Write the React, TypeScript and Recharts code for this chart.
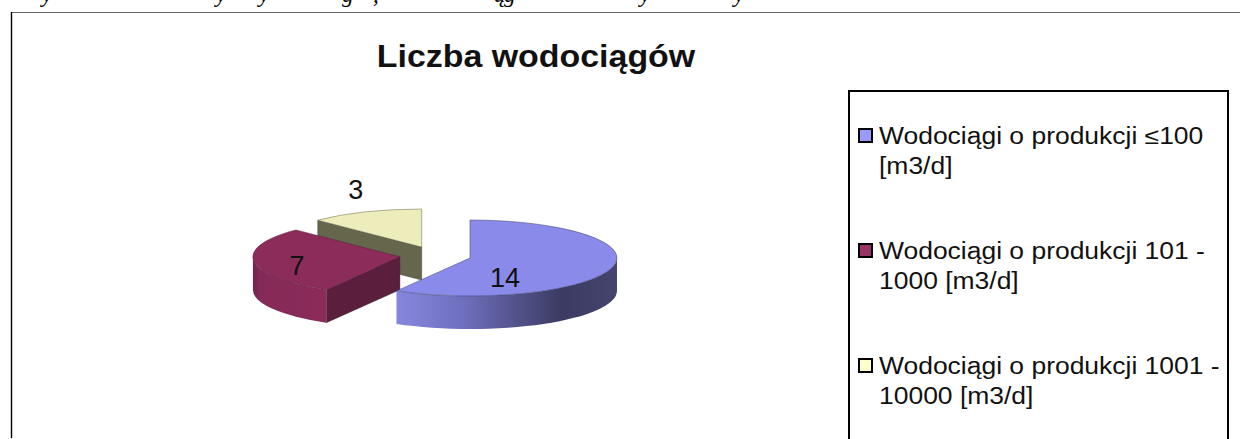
import React from "react";
import { PieChart, Pie, Legend } from "recharts";

// ---- data (in the order of the reference legend)
const categories = [
  "Wodociągi o produkcji ≤100 [m3/d]",
  "Wodociągi o produkcji 101 - 1000 [m3/d]",
  "Wodociągi o produkcji 1001 - 10000 [m3/d]",
];
const values = [14, 7, 3];
const title = "Liczba wodociągów";

// ---- style
const swatchColors = ["#9999FF", "#993366", "#FFFFCC"];
const faceColors = ["#8A8AEA", "#8B2C5B", "#EDEDBC"];
const radialWallColors = ["#3B3B63", "#5B1E3C", "#66664C"];
const wallStops: [number, string][][] = [
  [[0, "#8686DE"], [0.3, "#6F6FBF"], [0.55, "#52528A"], [0.75, "#3B3B63"], [1, "#44446E"]],
  [[0, "#6E2349"], [0.1, "#852A58"], [1, "#8B2B5A"]],
  [[0, "#66664C"], [1, "#66664C"]],
];
const labelOffsets = [[35, 29], [-103, 18], [-66, -48]];
const descenders: [string, number][] = [
  ["y", 42], ["y", 216], ["y", 259], ["g", 342], [",", 373], ["ą", 494], ["g", 504], ["y", 640], ["y", 734],
];

const SQUASH = 38 / 147;
const DEPTH = 33;
const EXPLODE = 35.8;
const RAD = Math.PI / 180;
const TEXT_STRETCH = 1.15;

// Drawn counter-clockwise in reverse so the front slices paint last.
const table = categories
  .map((name, i) => ({ name, value: values[i], fill: swatchColors[i] }))
  .reverse();
const refIndex = (i: number) => values.length - 1 - i;

function apex(cx: number, cy: number, midAngle: number) {
  return {
    x: cx + EXPLODE * Math.cos(midAngle * RAD),
    y: cy - EXPLODE * SQUASH * Math.sin(midAngle * RAD),
  };
}

function Slice3D(props: any) {
  const { cx, cy, outerRadius: r, startAngle: s, endAngle: e, midAngle, index } = props;
  const idx = refIndex(index);
  const c = apex(cx, cy, midAngle);
  const ry = r * SQUASH;
  const P = (a: number, dy = 0) =>
    `${c.x + r * Math.cos(a * RAD)} ${c.y - ry * Math.sin(a * RAD) + dy}`;
  const large = e - s > 180 ? 1 : 0;
  const top = `M${c.x} ${c.y} L${P(s)} A${r} ${ry} 0 ${large} 0 ${P(e)} Z`;
  const lo = Math.max(s, 180);
  const hi = Math.min(e, 360);
  const id = `wall-${idx}`;
  const outer =
    hi > lo
      ? `M${P(lo)} A${r} ${ry} 0 0 0 ${P(hi)} L${P(hi, DEPTH)} A${r} ${ry} 0 0 1 ${P(lo, DEPTH)} Z`
      : null;
  const radial = `M${c.x} ${c.y} L${P(e)} L${P(e, DEPTH)} L${c.x} ${c.y + DEPTH} Z`;
  return (
    <g>
      <defs>
        <linearGradient id={id} x1="0" y1="0" x2="1" y2="0">
          {wallStops[idx].map(([o, col]) => (
            <stop key={o} offset={o} stopColor={col} />
          ))}
        </linearGradient>
      </defs>
      {e < 360 && <path d={radial} fill={radialWallColors[idx]} stroke="#2a2a2a" strokeWidth={0.4} />}
      {outer && <path d={outer} fill={`url(#${id})`} />}
      <path d={top} fill={faceColors[idx]} stroke={radialWallColors[idx]} strokeWidth={0.5} />
    </g>
  );
}

function SliceLabel(props: any) {
  const { cx, cy, midAngle, value, index } = props;
  const c = apex(cx, cy, midAngle);
  const [dx, dy] = labelOffsets[refIndex(index)];
  return (
    <text
      x={c.x + dx}
      y={c.y + dy}
      textAnchor="middle"
      fontFamily="'Liberation Sans', Arial, sans-serif"
      fontSize={27}
      fill="#111"
    >
      {value}
    </text>
  );
}

function LegendBox(props: any) {
  const items = [...(props.payload || [])].reverse();
  return (
    <div
      style={{
        boxSizing: "border-box",
        width: 381,
        height: 380,
        border: "2px solid #000",
        background: "#fff",
        fontFamily: "'Liberation Sans', Arial, sans-serif",
        fontSize: 23,
        lineHeight: "30px",
        color: "#111",
        position: "relative",
      }}
    >
      {items.map((it: any, i: number) => (
        <div key={i} style={{ position: "absolute", left: 8, top: 29 + i * 115, display: "flex" }}>
          <span
            style={{
              boxSizing: "border-box",
              width: 15,
              height: 15,
              marginTop: 7,
              marginRight: 6,
              flex: "none",
              border: "2.5px solid #000",
              background: it.color,
            }}
          />
          <span
            style={{
              width: 303,
              flex: "none",
              transform: `scaleX(${TEXT_STRETCH})`,
              transformOrigin: "left top",
            }}
          >
            {it.value}
          </span>
        </div>
      ))}
    </div>
  );
}

export default function App() {
  return (
    <div style={{ position: "absolute", left: 0, top: 0, width: 1240, height: 439, overflow: "hidden", background: "#fff" }}>
      <PieChart width={1240} height={439} margin={{ top: 0, right: 0, bottom: 0, left: 0 }}>
        <line x1={11} y1={12.5} x2={1240} y2={12.5} stroke="#666" strokeWidth={1.2} />
        <line x1={11.5} y1={12} x2={11.5} y2={438} stroke="#000" strokeWidth={1.4} />
        {descenders.map(([ch, x], i) => (
          <text key={i} x={x} y={1.5} fontFamily="'Liberation Serif', serif" fontStyle="italic" fontSize={23} fill="#000">
            {ch}
          </text>
        ))}
        <text
          transform={`translate(536 67) scale(1.077 1)`}
          textAnchor="middle"
          fontFamily="'Liberation Sans', Arial, sans-serif"
          fontWeight="bold"
          fontSize={31.5}
          fill="#111"
        >
          {title}
        </text>
        <Pie
          data={table}
          dataKey="value"
          nameKey="name"
          cx={435.4}
          cy={255.6}
          innerRadius={0}
          outerRadius={147}
          startAngle={90}
          endAngle={450}
          stroke="none"
          isAnimationActive={false}
          shape={Slice3D}
          label={SliceLabel}
          labelLine={false}
        />
        <Legend
          layout="horizontal"
          verticalAlign="middle"
          align="center"
          content={LegendBox}
          wrapperStyle={{ position: "absolute", left: 848, top: 90, width: 381, height: 380, margin: 0 }}
        />
      </PieChart>
    </div>
  );
}
